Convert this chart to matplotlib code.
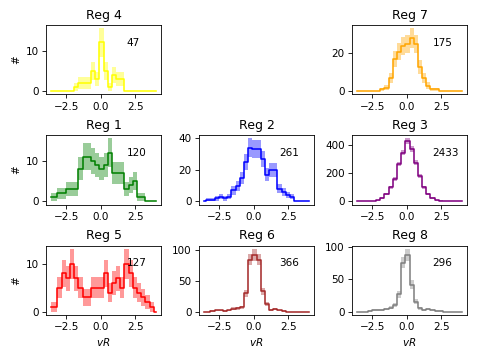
import numpy as np
import matplotlib
matplotlib.use("Agg")
import matplotlib.pyplot as plt

# bin centres of the velocity histogram
vR = np.linspace(-3.6, 4.0, 26)

reg4 = [0, 0, 0, 0, 0, 0, 1, 2, 2, 2, 5, 3, 12, 5, 1, 4, 3, 3, 0, 0, 0, 0, 0, 0, 0, 0]
reg7 = [0, 0, 0, 0, 0, 0, 1, 2, 7, 17, 21, 24, 25, 28, 25, 13, 7, 3, 1, 1, 0, 0, 0, 0, 0, 0]
reg1 = [1, 1, 2, 2, 3, 3, 3, 8, 11, 11, 10, 9, 8, 9, 12, 7, 7, 7, 3, 4, 5, 1, 1, 0, 0, 0]
reg2 = [0, 1, 1, 2, 3, 2, 3, 7, 10, 15, 25, 34, 33, 33, 27, 17, 20, 20, 8, 6, 4, 3, 0, 0, 0, 0]
reg3 = [0, 0, 1, 2, 3, 10, 25, 50, 100, 160, 265, 345, 425, 370, 275, 180, 100, 55, 25, 10, 5, 3, 1, 0, 0, 0]
reg5 = [1, 1, 5, 8, 7, 10, 7, 5, 3, 3, 5, 5, 5, 8, 4, 6, 7, 5, 10, 8, 5, 4, 3, 2, 1, 0]
reg6 = [0, 0, 1, 2, 2, 1, 2, 5, 6, 7, 30, 85, 93, 85, 33, 12, 3, 4, 2, 1, 0, 0, 0, 0, 0, 0]
reg8 = [0, 0, 0, 1, 2, 3, 2, 4, 6, 10, 27, 76, 88, 42, 15, 5, 3, 4, 2, 1, 1, 0, 0, 0, 0, 0]

titles = ["Reg 4", None, "Reg 7", "Reg 1", "Reg 2", "Reg 3", "Reg 5", "Reg 6", "Reg 8"]
counts = [47, None, 175, 120, 261, 2433, 127, 366, 296]
series = [reg4, None, reg7, reg1, reg2, reg3, reg5, reg6, reg8]
colors = ["yellow", None, "orange", "green", "blue", "purple", "red", "brown", "gray"]
yticks = [[0, 10], None, [0, 20], [0, 10], [0, 20, 40], [0, 200, 400],
          [0, 10], [0, 50, 100], [0, 50, 100]]

fig, axes = plt.subplots(3, 3, figsize=(479 / 75, 359 / 75), dpi=75)
fig.subplots_adjust(left=0.096, right=0.975, top=0.930, bottom=0.123,
                    wspace=0.33, hspace=0.59)

for i, ax in enumerate(axes.flat):
    if series[i] is None:
        ax.axis("off")
        continue
    n = np.array(series[i], dtype=float)
    err = np.sqrt(n)
    ax.step(vR, n, where="mid", color=colors[i], lw=1.5)
    ax.fill_between(vR, n - err, n + err, step="mid", color=colors[i],
                    alpha=0.4, lw=0)
    ax.set_title(titles[i])
    ax.text(0.7, 0.7, str(counts[i]), transform=ax.transAxes)
    ax.set_yticks(yticks[i])
    if i % 3 == 0:
        ax.set_ylabel("#")
    if i >= 6:
        ax.set_xlabel("$vR$")

fig.savefig("out.png", dpi=75)
